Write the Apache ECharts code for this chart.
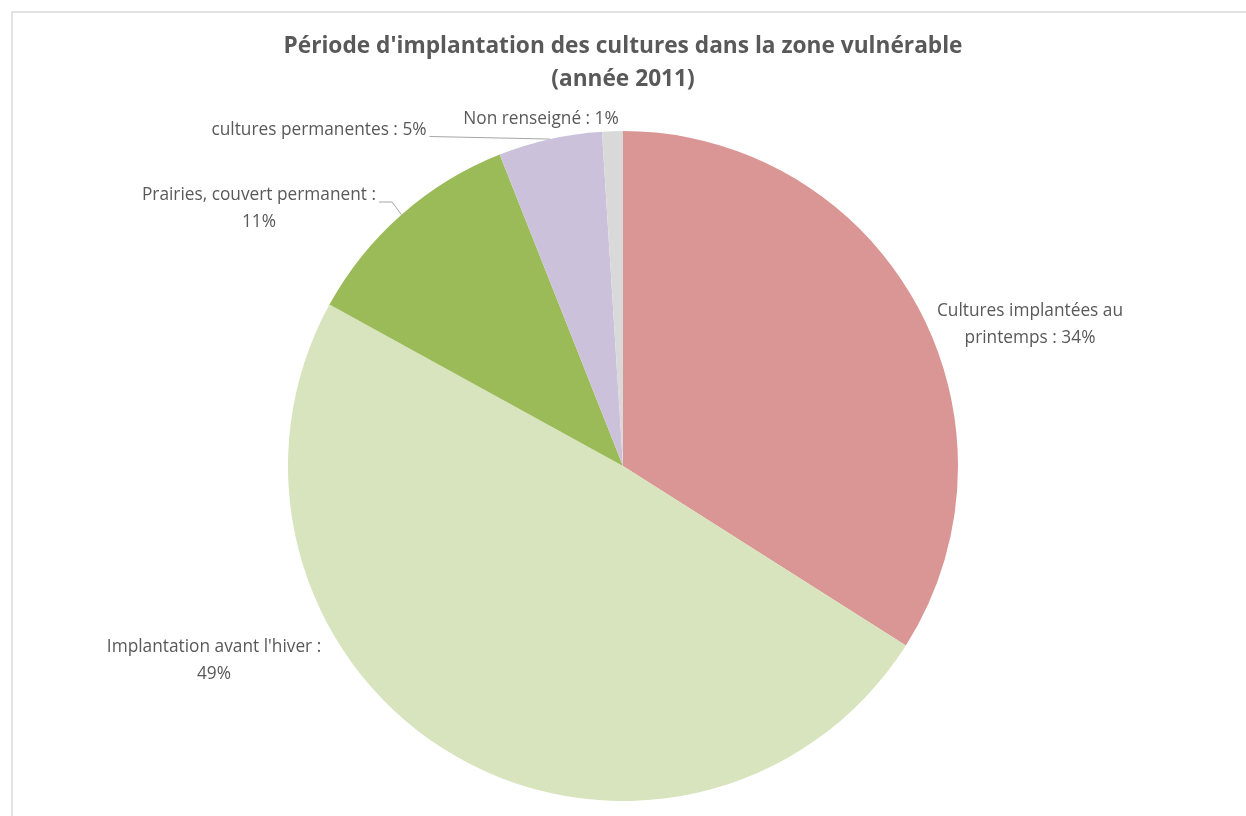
<!DOCTYPE html>
<html>
<head>
<meta charset="utf-8">
<title>Période d'implantation des cultures</title>
<script src="https://cdn.jsdelivr.net/npm/echarts@6/dist/echarts.min.js"></script>
<style>
  html, body { margin: 0; padding: 0; background: #ffffff; }
  #chart { width: 1246px; height: 816px; }
</style>
</head>
<body>
<div id="chart"></div>
<script>
// Crop establishment periods, share of the vulnerable zone (2011), in %
const categories = [
  'Cultures implantées au printemps',
  "Implantation avant l'hiver",
  'Prairies, couvert permanent',
  'cultures permanentes',
  'Non renseigné'
];
const shares = [34, 49, 11, 5, 1];
const sliceColors = ['#d99694', '#d7e4bd', '#9bbb59', '#ccc1da', '#d9d9d9'];

const FONT = '"Open Sans", "Noto Sans", sans-serif';
const TEXT_COLOR = '#595959';
const CENTER = [623, 466];
const RADIUS = 335;

// Where each label block sits (centre of the text block) and how it wraps
const labelPlacement = [
  { x: 1030, y: 325, breakAfter: 3, line: false },
  { x: 214, y: 661, breakAfter: 4, line: false },
  { x: 259, y: 209, breakAfter: 4, line: true, knee: 13 },
  { x: 319, y: 130, breakAfter: 0, line: true, knee: 0 },
  { x: 541, y: 119, breakAfter: 0, line: false }
];

const total = shares.reduce((a, b) => a + b, 0);

// Mid-angle point on the rim of slice i (clockwise from 12 o'clock)
function rimMidPoint(i) {
  let before = 0;
  for (let k = 0; k < i; k++) before += shares[k];
  const frac = (before + shares[i] / 2) / total;
  const a = frac * Math.PI * 2;
  return [CENTER[0] + RADIUS * Math.sin(a), CENTER[1] - RADIUS * Math.cos(a)];
}

function labelText(i) {
  const words = (categories[i] + ' : ' + shares[i] + '%').split(' ');
  const n = labelPlacement[i].breakAfter;
  if (!n) return words.join(' ');
  return words.slice(0, n).join(' ') + '\n' + words.slice(n).join(' ');
}

const chart = echarts.init(document.getElementById('chart'), null, { renderer: 'canvas' });

chart.setOption({
  backgroundColor: '#ffffff',
  animation: false,
  title: {
    text: "Période d'implantation des cultures dans la zone vulnérable\n(année 2011)",
    left: 'center',
    top: 25,
    textStyle: {
      fontFamily: FONT,
      fontSize: 22.7,
      fontWeight: 'bold',
      color: TEXT_COLOR,
      lineHeight: 33
    }
  },
  graphic: [{
    type: 'rect',
    silent: true,
    shape: { x: 12, y: 12, width: 1260, height: 830 },
    style: { fill: 'none', stroke: '#d9d9d9', lineWidth: 1.5 }
  }],
  series: [{
    type: 'pie',
    center: CENTER,
    radius: [0, RADIUS],
    startAngle: 90,
    clockwise: true,
    avoidLabelOverlap: false,
    itemStyle: { borderWidth: 0 },
    emphasis: { disabled: true },
    data: categories.map((name, i) => ({
      name: name,
      value: shares[i],
      itemStyle: { color: sliceColors[i] },
      labelLine: { show: labelPlacement[i].line }
    })),
    label: {
      show: true,
      position: 'outside',
      formatter: p => labelText(p.dataIndex),
      fontFamily: FONT,
      fontSize: 17.3,
      lineHeight: 27,
      color: TEXT_COLOR,
      align: 'center'
    },
    labelLine: {
      show: true,
      lineStyle: { color: '#a6a6a6', width: 1 }
    },
    labelLayout: function (params) {
      const p = labelPlacement[params.dataIndex];
      const r = params.labelRect;
      const out = {
        x: p.x,
        y: p.y,
        align: 'center',
        verticalAlign: 'middle'
      };
      if (p.line) {
        const right = p.x + r.width / 2 + 3;
        const top = p.y - r.height / 2;
        const anchor = [right, top + 20];
        const knee = [right + p.knee, top + 20];
        out.labelLinePoints = [rimMidPoint(params.dataIndex), knee, anchor];
      }
      return out;
    }
  }]
});
</script>
</body>
</html>
